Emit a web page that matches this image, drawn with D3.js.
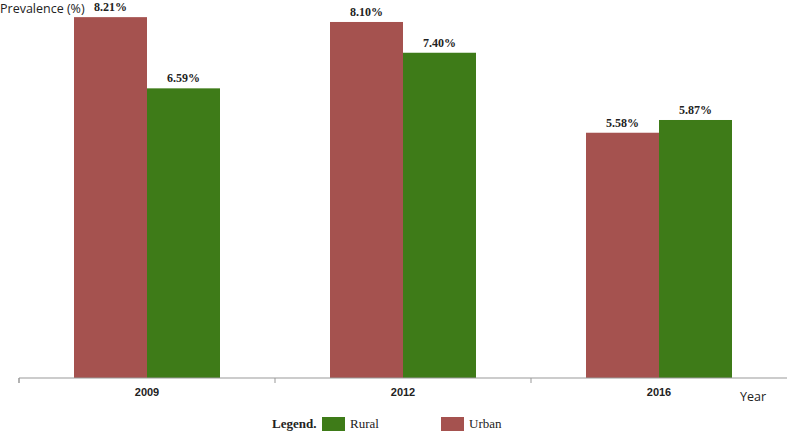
<!DOCTYPE html>
<html><head><meta charset="utf-8">
<script src="https://cdn.jsdelivr.net/npm/d3@7"></script>
<style>body{margin:0;background:#fff}svg{display:block}</style>
</head><body>
<script>
const years = ["2009","2012","2016"];
const seriesNames = ["Urban","Rural"];
const urban = [8.21, 8.10, 5.58];
const rural = [6.59, 7.40, 5.87];
const colors = {Urban:"#a5524f", Rural:"#3e7b18"};

const W=787,H=431;
const svg=d3.select("body").append("svg").attr("width",W).attr("height",H);
const x=d3.scaleBand().domain(years).range([19,787]);
const inner=d3.scaleBand().domain(seriesNames).range([0,146]);
const y=d3.scaleLinear().domain([0,8.6]).range([378,0]);
const vals={Urban:urban,Rural:rural};

const g=svg.append("g");
years.forEach((yr,i)=>{
  const off=x(yr)+x.bandwidth()/2-73;
  seriesNames.forEach(s=>{
    const v=vals[s][i];
    g.append("rect").attr("x",off+inner(s)).attr("y",y(v)).attr("width",inner.bandwidth()).attr("height",y(0)-y(v)).attr("fill",colors[s]);
    g.append("text").attr("x",off+inner(s)+inner.bandwidth()/2).attr("y",y(v)-6)
      .attr("text-anchor","middle").attr("font-family","Liberation Serif, Times New Roman, serif")
      .attr("font-weight","bold").attr("font-size",12).attr("fill","#222").text(v.toFixed(2)+"%");
  });
});

const ax=svg.append("g").attr("transform","translate(0,378)")
  .call(d3.axisBottom(x).tickSize(0).tickPadding(10));
ax.select(".domain").attr("stroke","#999").attr("d","M19,5V0H787");
ax.selectAll(".tick text").attr("font-family","Liberation Sans, Arial, sans-serif").attr("font-weight","bold").attr("font-size",11).attr("fill","#222");
const bounds=x.domain().map(d=>x(d));
svg.append("g").selectAll("line").data(bounds).join("line")
  .attr("x1",d=>d).attr("x2",d=>d).attr("y1",378).attr("y2",383).attr("stroke","#999");

svg.append("text").attr("x",0).attr("y",13).attr("font-family","Open Sans, sans-serif").attr("font-size",12.5).attr("fill","#222").text("Prevalence (%)");
svg.append("text").attr("x",740).attr("y",401).attr("font-family","Open Sans, sans-serif").attr("font-size",12.5).attr("fill","#222").text("Year");

const lg=svg.append("g");
lg.append("text").attr("x",272).attr("y",428).attr("font-family","Liberation Serif, serif").attr("font-weight","bold").attr("font-size",13).attr("fill","#222").text("Legend.");
[["Rural",322],["Urban",441]].forEach(([s,lx])=>{
  lg.append("rect").attr("x",lx).attr("y",417).attr("width",23).attr("height",14).attr("fill",colors[s]);
  lg.append("text").attr("x",lx+28).attr("y",428).attr("font-family","Liberation Serif, serif").attr("font-size",13).attr("fill","#222").text(s);
});
</script>
</body></html>
